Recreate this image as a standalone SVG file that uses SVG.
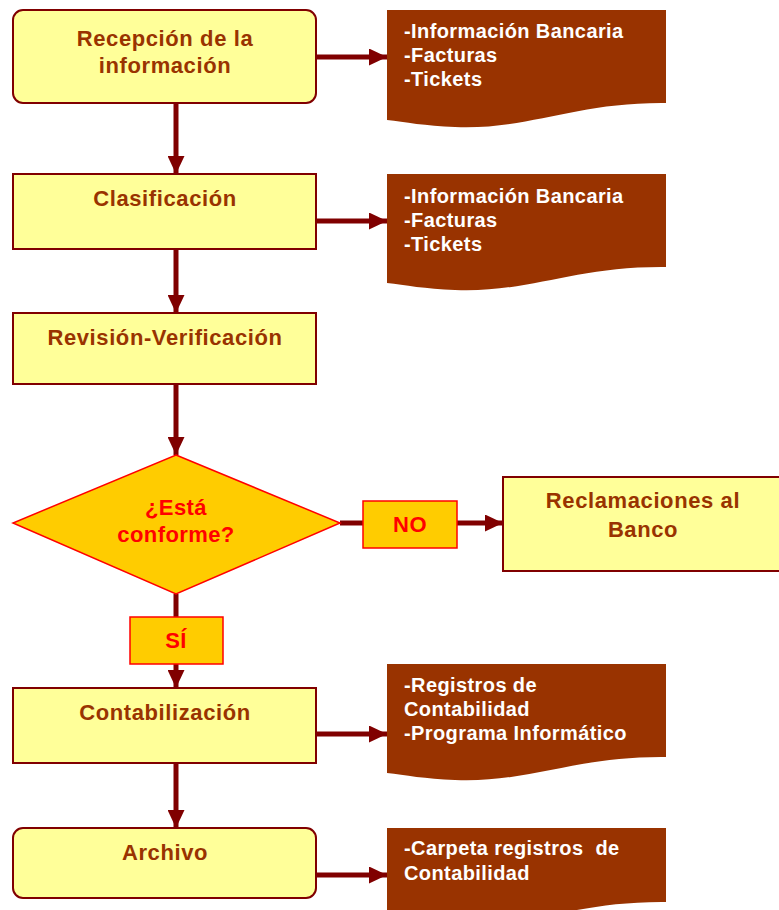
<svg xmlns="http://www.w3.org/2000/svg" width="779" height="910" viewBox="0 0 779 910">
  <defs>
    <marker id="head" markerUnits="userSpaceOnUse" markerWidth="19" markerHeight="17" refX="18" refY="8.5" orient="auto">
      <path d="M0,0 L18,8.5 L0,17 Z" fill="#800000"/>
    </marker>
  </defs>
  <style>
    .step { fill: #FFFF99; stroke: #800000; stroke-width: 2; }
    .doc { fill: #993300; }
    .choice { fill: #FFCC00; stroke: #FF0000; stroke-width: 1.5; }
    .t { font-family: "Liberation Sans", Arial, sans-serif; font-weight: bold; font-size: 22px; letter-spacing: 0.6px; fill: #993300; text-anchor: middle; }
    .dt { font-family: "Liberation Sans", Arial, sans-serif; font-weight: bold; font-size: 20px; letter-spacing: 0.4px; fill: #FFFFFF; }
    .rt { font-family: "Liberation Sans", Arial, sans-serif; font-weight: bold; font-size: 22px; letter-spacing: 0.4px; fill: #FF0000; text-anchor: middle; }
    .link { stroke: #800000; stroke-width: 5; fill: none; }
    .arrow { stroke: #800000; stroke-width: 5; fill: none; marker-end: url(#head); }
  </style>

  <!-- connectors -->
  <g id="connectors">
    <line class="arrow" x1="316" y1="57" x2="387" y2="57"/>
    <line class="arrow" x1="176" y1="103" x2="176" y2="174"/>
    <line class="arrow" x1="316" y1="221" x2="387" y2="221"/>
    <line class="arrow" x1="176" y1="245" x2="176" y2="313"/>
    <line class="arrow" x1="176" y1="384" x2="176" y2="455"/>
    <line class="link" x1="176" y1="594" x2="176" y2="617"/>
    <line class="arrow" x1="176" y1="664" x2="176" y2="688"/>
    <line class="link" x1="340" y1="523" x2="363" y2="523"/>
    <line class="arrow" x1="457" y1="523" x2="503" y2="523"/>
    <line class="arrow" x1="316" y1="734" x2="387" y2="734"/>
    <line class="arrow" x1="176" y1="757" x2="176" y2="828"/>
    <line class="arrow" x1="316" y1="875" x2="387" y2="875"/>
  </g>

  <!-- process steps -->
  <g id="recepcion">
    <rect class="step" x="13" y="10" width="303" height="93" rx="10"/>
    <text class="t" x="165" y="46">Recepción de la</text>
    <text class="t" x="165" y="73">información</text>
  </g>
  <g id="doc-recepcion">
    <path class="doc" d="M387,10 H666 V103 C575,102 530,130 455,127 C425,126 405,122 387,120 Z"/>
    <text class="dt" x="404" y="38">-Información Bancaria</text>
    <text class="dt" x="404" y="62">-Facturas</text>
    <text class="dt" x="404" y="86">-Tickets</text>
  </g>

  <g id="clasificacion">
    <rect class="step" x="13" y="174" width="303" height="75"/>
    <text class="t" x="165" y="206">Clasificación</text>
  </g>
  <g id="doc-clasificacion">
    <path class="doc" d="M387,174 H666 V267 C575,266 530,293 455,290 C425,289 405,285 387,283 Z"/>
    <text class="dt" x="404" y="203">-Información Bancaria</text>
    <text class="dt" x="404" y="227">-Facturas</text>
    <text class="dt" x="404" y="251">-Tickets</text>
  </g>

  <g id="revision">
    <rect class="step" x="13" y="313" width="303" height="71"/>
    <text class="t" x="165" y="345">Revisión-Verificación</text>
  </g>

  <!-- decision -->
  <g id="conforme">
    <polygon class="choice" points="176,455 340,523 176,594 13,523"/>
    <text class="rt" x="176" y="515">¿Está</text>
    <text class="rt" x="176" y="542">conforme?</text>
  </g>
  <g id="label-no">
    <rect class="choice" x="363" y="501" width="94" height="47"/>
    <text class="rt" x="410" y="532">NO</text>
  </g>
  <g id="label-si">
    <rect class="choice" x="130" y="617" width="93" height="47"/>
    <text class="rt" x="176" y="648">SÍ</text>
  </g>

  <g id="reclamaciones">
    <rect class="step" x="503" y="477" width="280" height="94"/>
    <text class="t" x="643" y="508">Reclamaciones al</text>
    <text class="t" x="643" y="537">Banco</text>
  </g>

  <g id="contabilizacion">
    <rect class="step" x="13" y="688" width="303" height="75"/>
    <text class="t" x="165" y="720">Contabilización</text>
  </g>
  <g id="doc-contabilizacion">
    <path class="doc" d="M387,664 H666 V757 C575,756 530,783 455,780 C425,779 405,775 387,773 Z"/>
    <text class="dt" x="404" y="692">-Registros de</text>
    <text class="dt" x="404" y="716">Contabilidad</text>
    <text class="dt" x="404" y="740">-Programa Informático</text>
  </g>

  <g id="archivo">
    <rect class="step" x="13" y="828" width="303" height="70" rx="10"/>
    <text class="t" x="165" y="860">Archivo</text>
  </g>
  <g id="doc-archivo">
    <path class="doc" d="M387,828 H666 V902 C575,901 530,928 455,925 C425,924 405,920 387,918 Z"/>
    <text class="dt" x="404" y="855" xml:space="preserve">-Carpeta registros  de</text>
    <text class="dt" x="404" y="880">Contabilidad</text>
  </g>
</svg>
